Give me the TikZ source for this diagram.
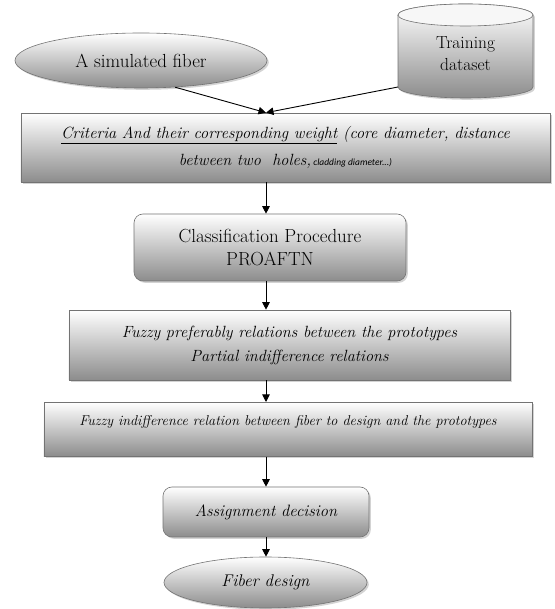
\documentclass[tikz,border=0pt]{standalone}
\usepackage{fontspec}
\newfontfamily\carlito{Carlito}
\usetikzlibrary{shapes.geometric,arrows.meta,shadows,backgrounds}
\begin{document}
\begin{tikzpicture}[x=1bp,y=1bp,
  base/.style={draw=black!55, line width=0.6bp, top color=white, bottom color=black!45,
    drop shadow={shadow xshift=1.8bp, shadow yshift=-1.8bp, opacity=0.35},
    text=black, inner sep=0pt, align=center},
  boxr/.style={base, rectangle},
  roundb/.style={base, rectangle, rounded corners=9bp},
  ell/.style={base, ellipse},
  arr/.style={-{Triangle[length=7.5bp,width=7.5bp]}, line width=0.9bp, black},
]
\useasboundingbox (0,0) rectangle (555,609);

% nodes
\node[ell, minimum width=252bp, minimum height=55bp, font=\fontsize{19}{22}\selectfont]
  (e1) at (141,548.5) {A simulated fiber};
\node[align=center, inner sep=0pt, text=black, font=\fontsize{17.5}{22}\selectfont]
  (cyl) at (465.5,555) {Training\\dataset};
\node[boxr, minimum width=529bp, minimum height=69bp, font=\fontsize{16.3}{27}\selectfont\itshape]
  (b1) at (285.5,461.5) {\underline{Criteria And their corresponding weight} (core diameter, distance\\
  between two~~holes,{\carlito\itshape\fontsize{9.5}{10}\selectfont{} cladding diameter...)}};
\node[roundb, minimum width=272bp, minimum height=67bp, font=\fontsize{19}{24}\selectfont]
  (cls) at (270,361.5) {Classification Procedure\\PROAFTN};
\node[boxr, minimum width=441bp, minimum height=70bp, font=\fontsize{16.3}{24}\selectfont\itshape]
  (b2) at (289.5,264) {Fuzzy preferably relations between the prototypes\\Partial indifference relations};
\node[boxr, anchor=north, minimum width=488bp, text height=23bp, text depth=31bp, font=\fontsize{14.3}{16}\selectfont\itshape]
  (b3) at (288,207) {Fuzzy indifference relation between fiber to design and the prototypes};
\node[roundb, minimum width=206bp, minimum height=50bp, font=\fontsize{16.5}{20}\selectfont\itshape]
  (asg) at (266,97) {Assignment decision};
\node[ell, minimum width=203bp, minimum height=51bp, font=\fontsize{17}{20}\selectfont\itshape]
  (fd) at (265.5,26.5) {Fiber design};

% cylinder shape
\begin{scope}[on background layer]
\path[draw=black!55, line width=0.6bp, top color=white, bottom color=black!45,
    drop shadow={shadow xshift=1.8bp, shadow yshift=-1.8bp, opacity=0.35}]
  (398,594) -- (398,522) arc[start angle=180, end angle=360, x radius=67.5bp, y radius=11bp]
  -- (533,594) arc[start angle=0, end angle=180, x radius=67.5bp, y radius=11bp] -- cycle;
\draw[black!55, line width=0.6bp, fill=black!3] (465.5,594) ellipse[x radius=67.5bp, y radius=11bp];
\end{scope}

\coordinate (ax) at (266,0);
\coordinate (cylfoot) at (398,522);
\coordinate (m) at (b1.north -| ax);

% connectors
\draw[arr] (e1.-38) -- (m);
\draw[arr] (cylfoot) -- (m);
\draw[arr] (b1.south -| ax) -- (cls.north -| ax);
\draw[arr] (cls.south -| ax) -- (b2.north -| ax);
\draw[arr] (b2.south -| ax) -- (b3.north -| ax);
\draw[arr] (b3.south -| ax) -- (asg.north -| ax);
\draw[arr] (asg.south -| ax) -- (fd.north -| ax);
\end{tikzpicture}
\end{document}
